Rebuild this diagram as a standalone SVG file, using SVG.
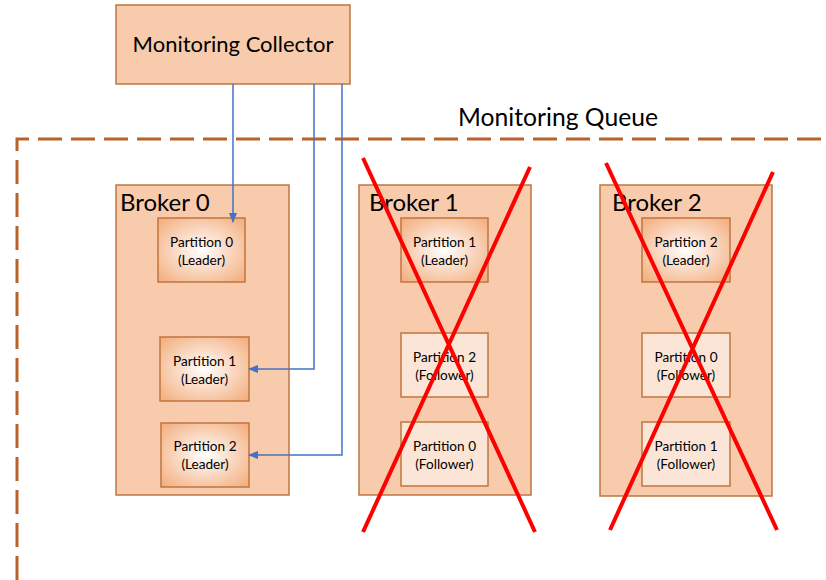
<svg xmlns="http://www.w3.org/2000/svg" width="826" height="580" viewBox="0 0 826 580">
<style>
.box{fill:#F8CBAD;stroke:#C0753F;stroke-width:1.5}
.fol{fill:#FBE5D6;stroke:#C0753F;stroke-width:1.5}
.lead{fill:url(#rg);stroke:#C0753F;stroke-width:1.5}
.t{font-family:Lato,"Open Sans","Liberation Sans",sans-serif;fill:#000}
.big{font-size:22px}
.sm{font-size:13.6px;text-anchor:middle}
.conn{fill:none;stroke:#4472C4;stroke-width:1.5}
.x{stroke:#FF0000;stroke-width:4;fill:none}
</style>
<defs>
<radialGradient id="rg" cx="0.5" cy="0.5" r="0.65">
<stop offset="0" stop-color="#FFFFFF"/>
<stop offset="0.15" stop-color="#FDF3EC"/>
<stop offset="1" stop-color="#F4B183"/>
</radialGradient>
<marker id="ah" markerWidth="10" markerHeight="8" refX="9" refY="4" orient="auto" markerUnits="userSpaceOnUse">
<path d="M0,0 L10,4 L0,8 Z" fill="#4472C4"/>
</marker>
</defs>
<rect width="826" height="580" fill="#fff"/>
<g id="queue">
<path d="M17,580 V139 H830" fill="none" stroke="#B8622A" stroke-width="3" stroke-dasharray="24 9"/>
<text class="t" x="458" y="126" font-size="24.7">Monitoring Queue</text>
</g>
<g id="collector">
<rect class="box" x="116" y="5" width="234" height="79"/>
<text class="t big" x="233" y="52" text-anchor="middle">Monitoring Collector</text>
</g>
<g id="broker0">
<rect class="box" x="116" y="185" width="173" height="310"/>
<text class="t" x="120" y="211" font-size="24">Broker 0</text>
</g>
<g id="b0p0"><rect class="lead" x="158" y="218" width="87" height="64"/><text class="t sm" x="201.5" y="247">Partition 0</text><text class="t sm" x="201.5" y="265">(Leader)</text></g>
<g id="b0p1"><rect class="lead" x="160" y="337" width="89" height="64"/><text class="t sm" x="204.5" y="366">Partition 1</text><text class="t sm" x="204.5" y="384">(Leader)</text></g>
<g id="b0p2"><rect class="lead" x="161" y="423" width="88" height="64"/><text class="t sm" x="205" y="451">Partition 2</text><text class="t sm" x="205" y="469">(Leader)</text></g>
<g id="broker1">
<rect class="box" x="359" y="185" width="172" height="310"/>
<text class="t" x="369" y="211" font-size="24">Broker 1</text>
</g>
<g id="b1p1"><rect class="lead" x="401" y="218" width="87" height="64"/><text class="t sm" x="444.5" y="247">Partition 1</text><text class="t sm" x="444.5" y="265">(Leader)</text></g>
<g id="b1p2"><rect class="fol" x="401" y="333" width="87" height="64"/><text class="t sm" x="444.5" y="362">Partition 2</text><text class="t sm" x="444.5" y="380">(Follower)</text></g>
<g id="b1p0"><rect class="fol" x="401" y="422" width="87" height="64"/><text class="t sm" x="444.5" y="451">Partition 0</text><text class="t sm" x="444.5" y="469">(Follower)</text></g>
<g id="broker2">
<rect class="box" x="600" y="185" width="172" height="311"/>
<text class="t" x="612" y="211" font-size="24">Broker 2</text>
</g>
<g id="b2p2"><rect class="lead" x="642" y="218" width="88" height="64"/><text class="t sm" x="686" y="247">Partition 2</text><text class="t sm" x="686" y="265">(Leader)</text></g>
<g id="b2p0"><rect class="fol" x="642" y="333" width="88" height="64"/><text class="t sm" x="686" y="362">Partition 0</text><text class="t sm" x="686" y="380">(Follower)</text></g>
<g id="b2p1"><rect class="fol" x="642" y="422" width="88" height="64"/><text class="t sm" x="686" y="451">Partition 1</text><text class="t sm" x="686" y="469">(Follower)</text></g>
<g id="connectors">
<path class="conn" d="M233,84 V222" marker-end="url(#ah)"/>
<path class="conn" d="M314,84 V369 H249" marker-end="url(#ah)"/>
<path class="conn" d="M342,84 V455 H249" marker-end="url(#ah)"/>
</g>
<g id="crosses">
<path class="x" d="M363,158 L535,532 M530,167 L363,532"/>
<path class="x" d="M606,163 L777,530 M773,172 L610,530"/>
</g>
</svg>
